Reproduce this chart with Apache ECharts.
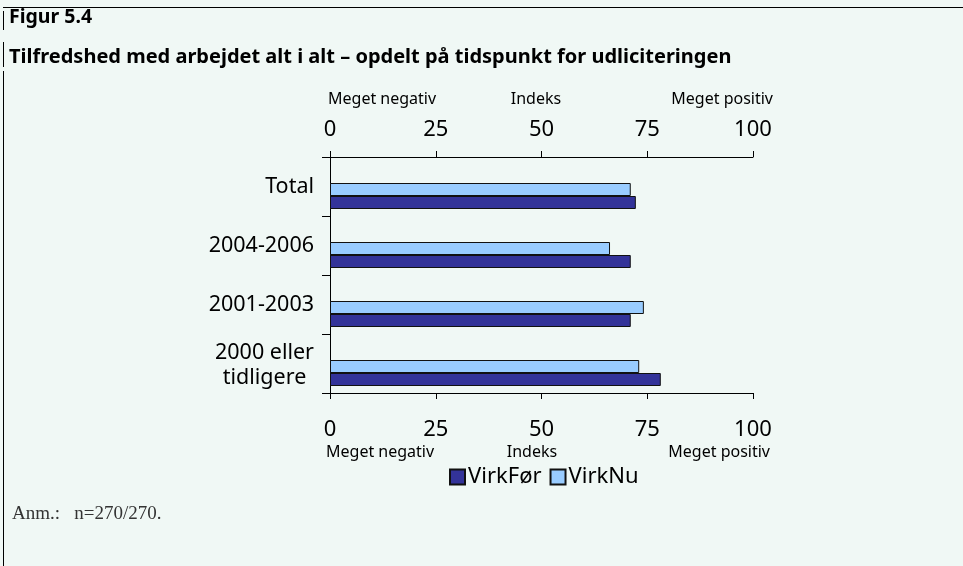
<!DOCTYPE html>
<html>
<head>
<meta charset="utf-8">
<script src="https://cdn.jsdelivr.net/npm/echarts@6/dist/echarts.min.js"></script>
<style>
  html, body { margin: 0; padding: 0; background: #f0f8f5; }
  #chart { width: 963px; height: 566px; }
</style>
</head>
<body>
<div id="chart"></div>
<script>
// categories top to bottom, as in the figure
var categories = ["Total", "2004-2006", "2001-2003", "2000 eller tidligere"];
var virkFoer = [72.3, 71.1, 71.1, 78.2];
var virkNu = [71.1, 66.2, 74.2, 73.1];
var tickValues = [0, 25, 50, 75, 100];

// echarts draws the first category at the bottom, so reverse
var cats = categories.slice().reverse();
var foer = virkFoer.slice().reverse();
var nu = virkNu.slice().reverse();

var font = "Noto Sans";
var chart = echarts.init(document.getElementById("chart"));

var valueAxis = function (pos, grid, show, margin) {
  return {
    type: "value",
    gridIndex: grid,
    position: pos,
    min: tickValues[0],
    max: tickValues[tickValues.length - 1],
    interval: 25,
    show: show,
    axisLine: { show: true, lineStyle: { color: "#000", width: 1 } },
    axisTick: { show: true, length: 6, lineStyle: { color: "#000" } },
    axisLabel: { color: "#000", fontFamily: font, fontSize: 22, margin: margin },
    splitLine: { show: false }
  };
};

var small = "16px 'Noto Sans'";

chart.setOption({
  backgroundColor: "#f0f8f5",
  animation: false,
  grid: [
    { left: 330, right: 210, top: 157, bottom: 173 },
    // bars sit a bit below the middle of each band
    { left: 330, right: 210, top: 166.5, bottom: 163.5 }
  ],
  xAxis: [
    valueAxis("top", 0, true, 16),
    valueAxis("bottom", 0, true, 26),
    valueAxis("bottom", 1, false, 0)
  ],
  yAxis: [
    {
      type: "category",
      gridIndex: 0,
      data: cats,
      axisLine: { show: true, lineStyle: { color: "#000" } },
      axisTick: { show: true, length: 8, lineStyle: { color: "#000" } },
      axisLabel: {
        color: "#000",
        fontFamily: font,
        fontSize: 21.5,
        margin: 16,
        formatter: function (v) {
          if (v === "2000 eller tidligere") {
            return "{c|2000 eller}\n{c|tidligere}";
          }
          return v;
        },
        rich: {
          c: { align: "center", fontFamily: font, fontSize: 21.5, lineHeight: 25, color: "#000", padding: [4, 0, 0, 0] }
        }
      }
    },
    { type: "category", gridIndex: 1, data: cats, show: false }
  ],
  legend: {
    data: ["VirkFør", "VirkNu"],
    left: 444,
    top: 461,
    itemWidth: 15,
    itemHeight: 15,
    itemGap: 8,
    icon: "rect",
    textStyle: { color: "#000", fontFamily: font, fontSize: 22, padding: [0, 0, 0, -2] }
  },
  series: [
    {
      name: "VirkNu",
      type: "bar",
      xAxisIndex: 2,
      yAxisIndex: 1,
      data: nu,
      barWidth: 13,
      barGap: "0%",
      itemStyle: { color: "#99ccff", borderColor: "#111", borderWidth: 1 }
    },
    {
      name: "VirkFør",
      type: "bar",
      xAxisIndex: 2,
      yAxisIndex: 1,
      data: foer,
      barWidth: 13,
      barGap: "0%",
      itemStyle: { color: "#333399", borderColor: "#111", borderWidth: 1 }
    }
  ],
  graphic: [
    { type: "rect", shape: { x: 3, y: 7, width: 960, height: 1 }, style: { fill: "#000" } },
    { type: "rect", shape: { x: 3, y: 11, width: 1, height: 19 }, style: { fill: "#000" } },
    { type: "rect", shape: { x: 3, y: 42, width: 1, height: 25 }, style: { fill: "#000" } },
    { type: "rect", shape: { x: 3, y: 71, width: 1, height: 495 }, style: { fill: "#000" } },
    { type: "text", x: 9, y: 17, style: { text: "Figur 5.4", font: "bold 19.5px 'Noto Sans'", fill: "#000", verticalAlign: "middle" } },
    { type: "text", x: 9, y: 57, style: { text: "Tilfredshed med arbejdet alt i alt – opdelt på tidspunkt for udliciteringen", font: "bold 20px 'Noto Sans'", fill: "#000", verticalAlign: "middle" } },
    { type: "text", x: 328, y: 99, style: { text: "Meget negativ", font: small, fill: "#000", align: "left", verticalAlign: "middle" } },
    { type: "text", x: 536, y: 99, style: { text: "Indeks", font: small, fill: "#000", align: "center", verticalAlign: "middle" } },
    { type: "text", x: 773, y: 99, style: { text: "Meget positiv", font: small, fill: "#000", align: "right", verticalAlign: "middle" } },
    { type: "text", x: 326, y: 452, style: { text: "Meget negativ", font: small, fill: "#000", align: "left", verticalAlign: "middle" } },
    { type: "text", x: 532, y: 452, style: { text: "Indeks", font: small, fill: "#000", align: "center", verticalAlign: "middle" } },
    { type: "text", x: 770, y: 452, style: { text: "Meget positiv", font: small, fill: "#000", align: "right", verticalAlign: "middle" } },
    { type: "text", x: 12, y: 514, style: { text: "Anm.:   n=270/270.", font: "19px 'Liberation Serif'", fill: "#333", align: "left", verticalAlign: "middle" } }
  ]
});
</script>
</body>
</html>
